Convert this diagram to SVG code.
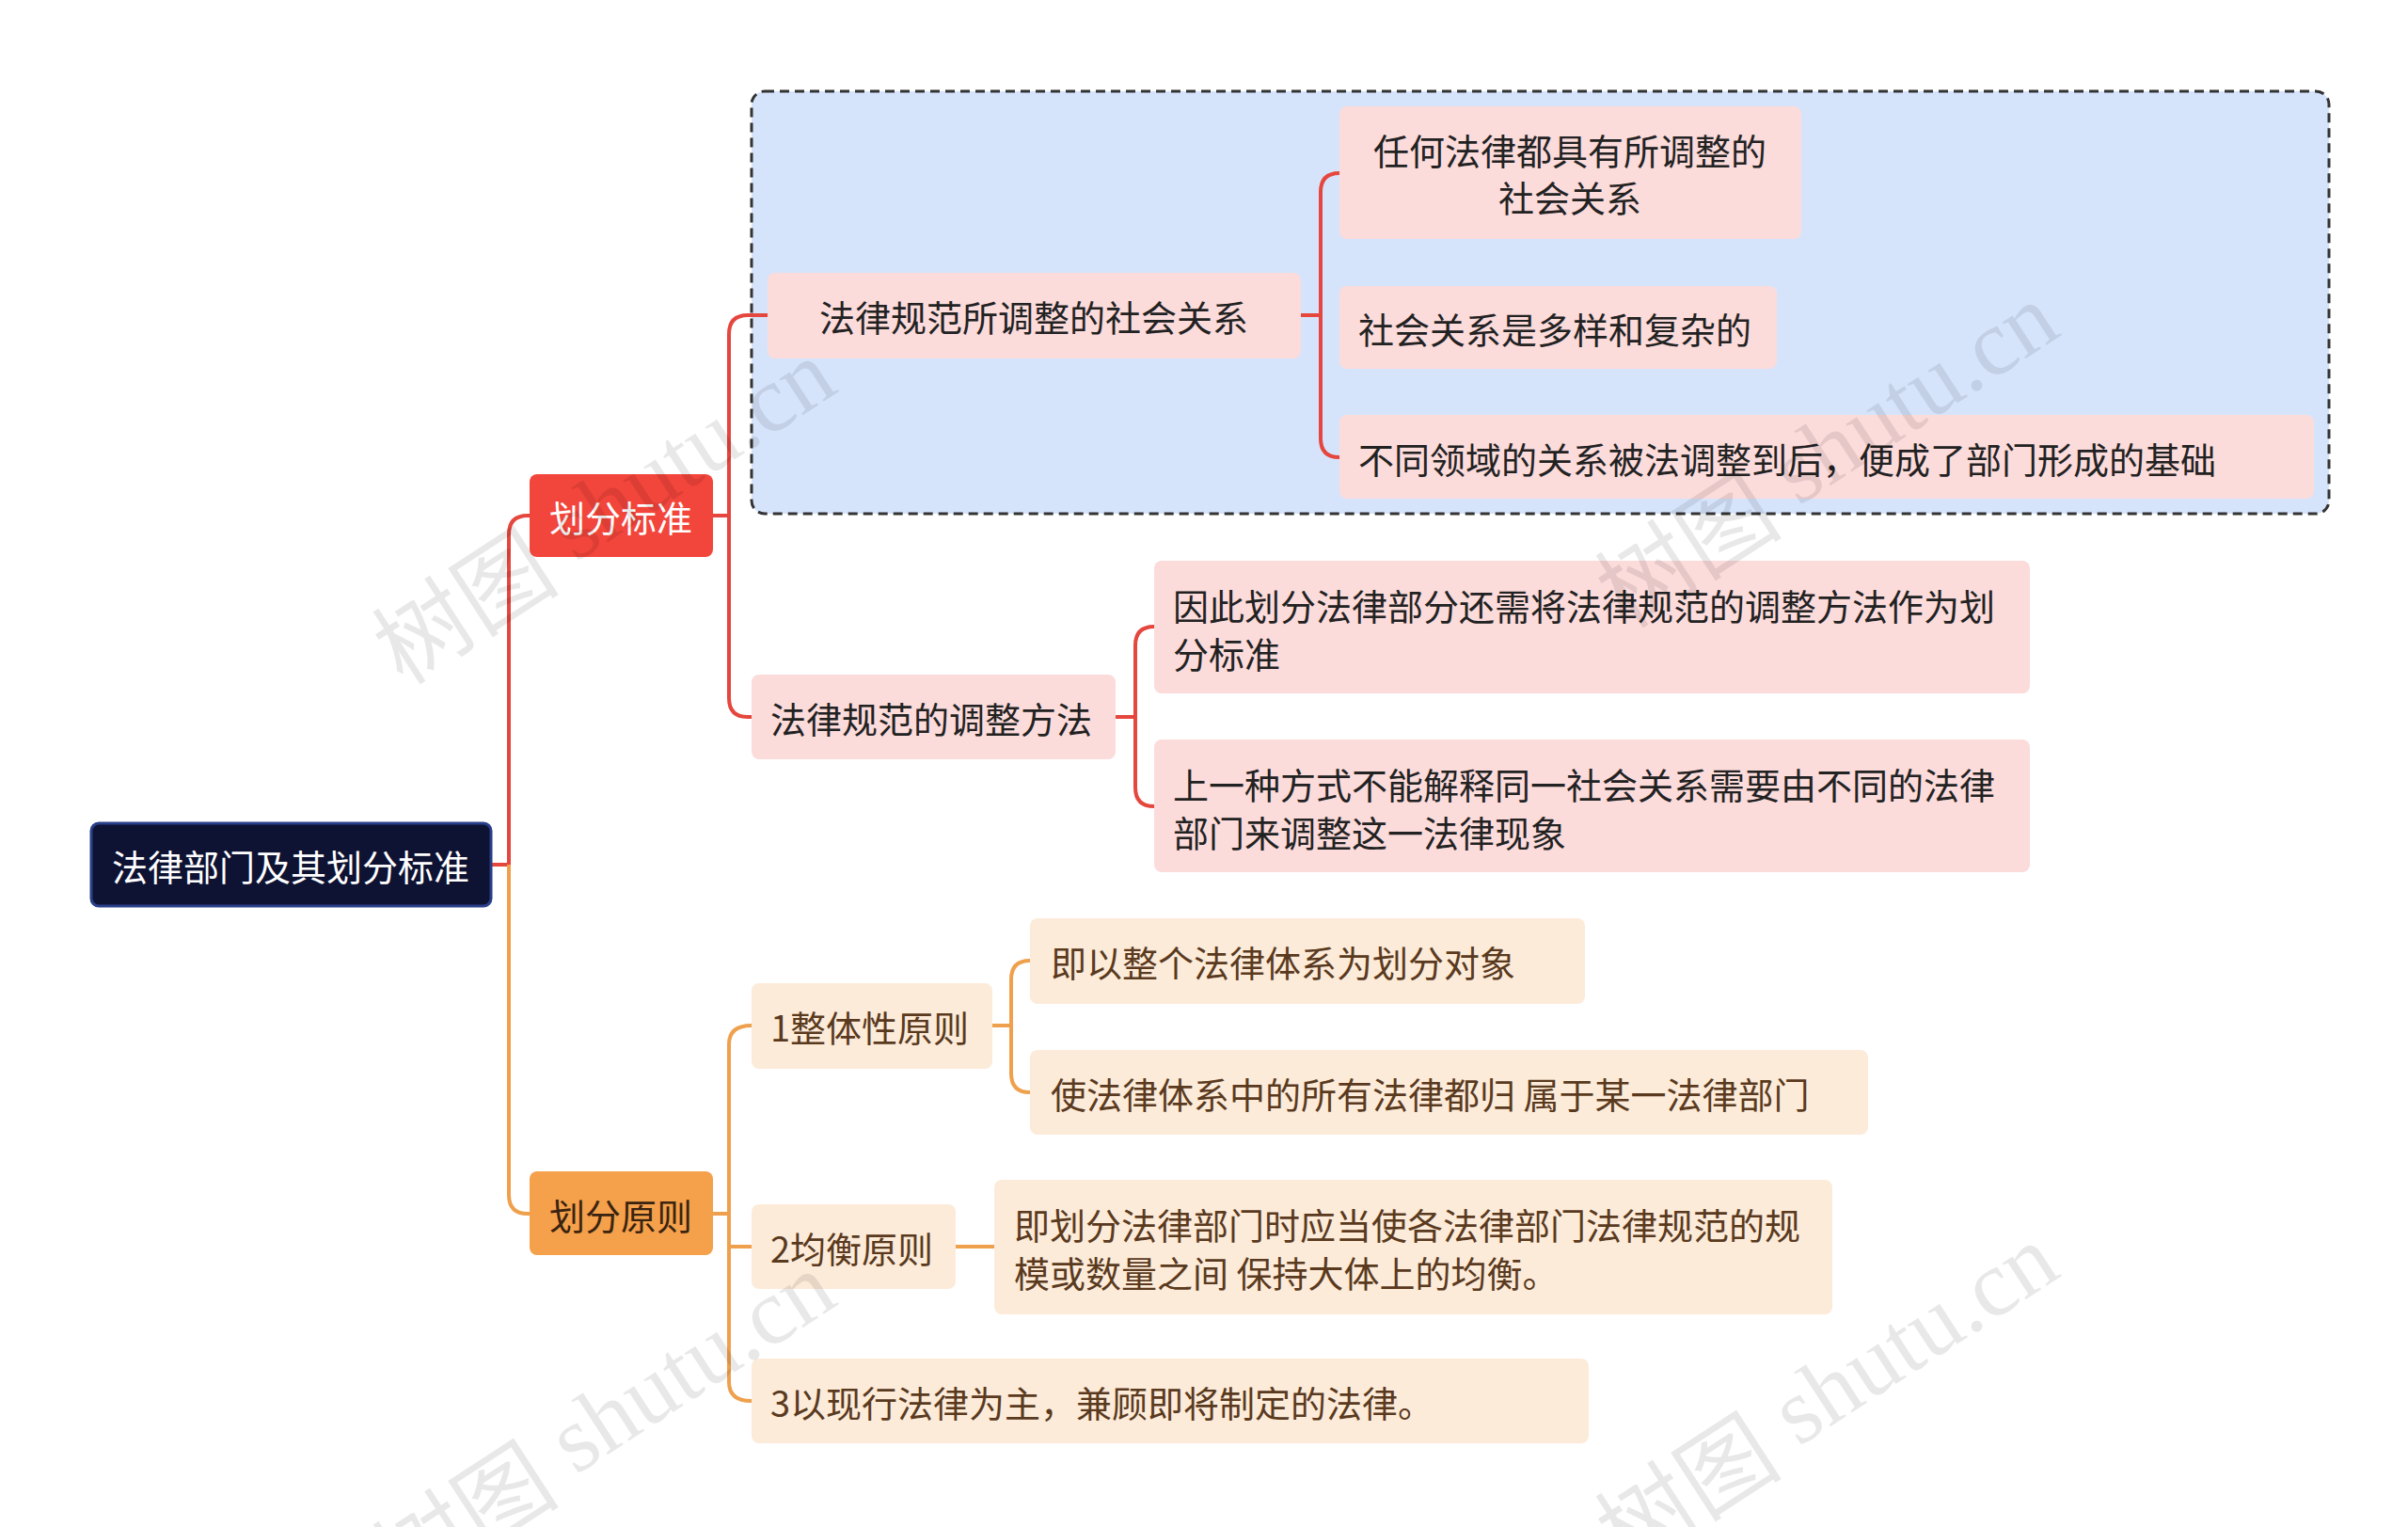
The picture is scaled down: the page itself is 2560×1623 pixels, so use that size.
<svg xmlns="http://www.w3.org/2000/svg" width="2560" height="1623" viewBox="0 0 2560 1623">
<style>
text{font-family:"Noto Sans CJK SC","Noto Sans",sans-serif;font-size:38px;dominant-baseline:central}
.r{fill:#fcdbdb}.o{fill:#fdebd9}
.tr{fill:#222}.to{fill:#5a3a1e}
.cr{fill:none;stroke:#e5463d;stroke-width:4}
.co{fill:none;stroke:#efa04c;stroke-width:4}
.wm{font-family:"Liberation Serif",serif;font-size:100px;fill:#000;fill-opacity:0.09}
</style>
<rect width="2560" height="1623" fill="#fff"/>
<rect x="799" y="97" width="1677" height="449" rx="14" fill="#d6e4fb" stroke="#333" stroke-width="3" stroke-dasharray="10,6"/>
<g id="connectors">
<path class="cr" d="M522,919 H541 V568 Q541,548 561,548 H563"/>
<path class="co" d="M541,919 V1270 Q541,1290 561,1290 H563"/>
<path class="cr" d="M758,548 H775"/>
<path class="cr" d="M816,335 H795 Q775,335 775,355 V742 Q775,762 795,762 H799"/>
<path class="cr" d="M1383,335 H1404"/>
<path class="cr" d="M1424,184 Q1404,184 1404,204 V466 Q1404,486 1424,486"/>
<path class="cr" d="M1186,762 H1207"/>
<path class="cr" d="M1227,666 Q1207,666 1207,686 V837 Q1207,857 1227,857"/>
<path class="co" d="M758,1290 H775"/>
<path class="co" d="M799,1090 Q775,1090 775,1110 V1469 Q775,1489 799,1489"/>
<path class="co" d="M775,1325 H799"/>
<path class="co" d="M1055,1090 H1075"/>
<path class="co" d="M1095,1021 Q1075,1021 1075,1041 V1141 Q1075,1161 1095,1161"/>
<path class="co" d="M1016,1325 H1057"/>
</g>
<g id="root"><rect x="97" y="875" width="425" height="88" rx="8" fill="#0e1333" stroke="#2a3f8a" stroke-width="3"/><text x="309" y="919" text-anchor="middle" fill="#fff">法律部门及其划分标准</text></g>
<g id="n1"><rect x="563" y="504" width="195" height="88" rx="8" fill="#f2453b"/><text x="660" y="548" text-anchor="middle" fill="#fff">划分标准</text></g>
<g id="n2"><rect x="563" y="1245" width="195" height="89" rx="8" fill="#f5a04b"/><text x="660" y="1290" text-anchor="middle" fill="#3a2410">划分原则</text></g>
<g id="n11"><rect class="r" x="816" y="290" width="567" height="91" rx="8"/><text class="tr" x="1099" y="335" text-anchor="middle">法律规范所调整的社会关系</text></g>
<g id="n12"><rect class="r" x="799" y="717" width="387" height="90" rx="8"/><text class="tr" x="819" y="762">法律规范的调整方法</text></g>
<g id="l111"><rect class="r" x="1424" y="113" width="491" height="141" rx="8"/><text class="tr" x="1669" y="158" text-anchor="middle">任何法律都具有所调整的</text><text class="tr" x="1669" y="208" text-anchor="middle">社会关系</text></g>
<g id="l112"><rect class="r" x="1424" y="304" width="465" height="88" rx="8"/><text class="tr" x="1444" y="348">社会关系是多样和复杂的</text></g>
<g id="l113"><rect class="r" x="1424" y="441" width="1036" height="89" rx="8"/><text class="tr" x="1444" y="486">不同领域的关系被法调整到后，便成了部门形成的基础</text></g>
<g id="l121"><rect class="r" x="1227" y="596" width="931" height="141" rx="8"/><text class="tr" x="1247" y="642">因此划分法律部分还需将法律规范的调整方法作为划</text><text class="tr" x="1247" y="693">分标准</text></g>
<g id="l122"><rect class="r" x="1227" y="786" width="931" height="141" rx="8"/><text class="tr" x="1247" y="832">上一种方式不能解释同一社会关系需要由不同的法律</text><text class="tr" x="1247" y="883">部门来调整这一法律现象</text></g>
<g id="n21"><rect class="o" x="799" y="1045" width="256" height="91" rx="8"/><text class="to" x="819" y="1090">1整体性原则</text></g>
<g id="n22"><rect class="o" x="799" y="1280" width="217" height="90" rx="8"/><text class="to" x="819" y="1325">2均衡原则</text></g>
<g id="n23"><rect class="o" x="799" y="1444" width="890" height="90" rx="8"/><text class="to" x="819" y="1489">3以现行法律为主，兼顾即将制定的法律。</text></g>
<g id="l211"><rect class="o" x="1095" y="976" width="590" height="91" rx="8"/><text class="to" x="1117" y="1021">即以整个法律体系为划分对象</text></g>
<g id="l212"><rect class="o" x="1095" y="1116" width="891" height="90" rx="8"/><text class="to" x="1117" y="1161">使法律体系中的所有法律都归 属于某一法律部门</text></g>
<g id="l221"><rect class="o" x="1057" y="1254" width="891" height="143" rx="8"/><text class="to" x="1078" y="1300">即划分法律部门时应当使各法律部门法律规范的规</text><text class="to" x="1078" y="1351">模或数量之间 保持大体上的均衡。</text></g>
<g id="watermarks">
<text class="wm" transform="translate(640,540) rotate(-33)" text-anchor="middle"><tspan font-family="Noto Sans CJK SC">树图</tspan> shutu.cn</text>
<text class="wm" transform="translate(1940,480) rotate(-33)" text-anchor="middle"><tspan font-family="Noto Sans CJK SC">树图</tspan> shutu.cn</text>
<text class="wm" transform="translate(640,1510) rotate(-33)" text-anchor="middle"><tspan font-family="Noto Sans CJK SC">树图</tspan> shutu.cn</text>
<text class="wm" transform="translate(1940,1480) rotate(-33)" text-anchor="middle"><tspan font-family="Noto Sans CJK SC">树图</tspan> shutu.cn</text>
</g>
</svg>
